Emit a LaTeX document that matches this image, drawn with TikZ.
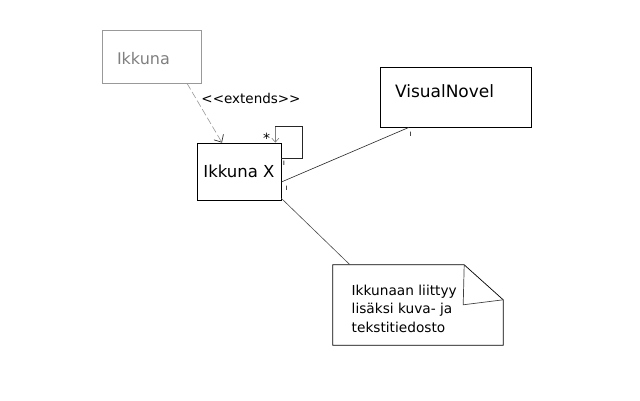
\documentclass[tikz,border=0pt]{standalone}
\usepackage{fontspec}
\setmainfont[Ligatures=NoCommon]{DejaVu Sans}
\usetikzlibrary{arrows.meta,calc}
\definecolor{ltgray}{HTML}{999999}
\definecolor{txgray}{HTML}{808080}
\begin{document}
\begin{tikzpicture}[x=1pt,y=-1pt,
  box/.style={draw=black, line width=0.7pt, inner sep=0pt, fill=white},
  greybox/.style={draw=ltgray, line width=0.7pt, inner sep=0pt, text=txgray},
  conn/.style={draw=black!85, line width=0.6pt},
  mult/.style={font=\fontsize{8}{8}\selectfont, inner sep=0pt}]
\useasboundingbox[fill=white] (0,0) rectangle (640,400);

\node[greybox, minimum width=99pt, minimum height=53pt, text width=69pt, inner xsep=15pt, align=left,
  font=\fontsize{16}{18}\selectfont] (ik) at (151.5,56.5) {\raisebox{-2pt}[\height][\depth]{Ikkuna}};

\node[box, minimum width=84pt, minimum height=57pt, font=\fontsize{16.5}{19}\selectfont] (ikx) at (239,171.5) {Ikkuna X};

\node[box, minimum width=151pt, minimum height=60pt, text width=121pt, inner xsep=15pt, align=left,
  font=\fontsize{17}{19}\selectfont] (vn) at (455.5,97) {\raisebox{6pt}[\height][\depth]{VisualNovel}};

\node[minimum width=170pt, minimum height=80pt, inner sep=0pt] (note) at (418,305) {};
\draw[line width=0.7pt] (note.north west) -- ($(note.north east)+(-39,0)$) coordinate (fa)
  -- ($(note.north east)+(0,35)$) coordinate (fb) -- (note.south east) -- (note.south west) -- cycle;
\draw[line width=0.7pt, draw=black!75] (fa) -- ($(fa)+(-1,40)$) -- (fb);
\node[anchor=west, align=left, inner sep=0pt, font=\fontsize{13.7}{18.5}\selectfont] (notetext) at (351.5,308.5)
  {Ikkunaan liittyy\\lisäksi kuva- ja\\tekstitiedosto};

% extends
\draw[draw=ltgray, line width=0.6pt, dash pattern=on 7pt off 3pt,
  -{Straight Barb[length=6pt,width=11pt,line width=0.7pt,color=black!80]}]
  ([xshift=35.5pt]ik.south) -- ([xshift=-17pt]ikx.north);
\node[font=\fontsize{13.5}{15}\selectfont, inner sep=0pt] (extlbl) at (251,98) {{<}{<}extends{>}{>}};

% self loop
\draw[conn] ([yshift=-16pt]ikx.north east) -- ++(21,0) -- ++(0,-32) -- ++(-27,0) coordinate (lp);
\draw[draw=txgray, line width=0.6pt, -{Straight Barb[length=4pt,width=7pt,line width=0.6pt,color=txgray]}]
  (lp) -- ([xshift=-6pt]ikx.north east);
\node[font=\fontsize{14}{14}\selectfont, inner sep=0pt] (star) at (266.5,138.5) {*};

% associations
\draw[conn] ([yshift=-10.5pt]ikx.east) -- ([xshift=-46.5pt]vn.south);
\draw[conn, draw=black!70] ([yshift=2pt]ikx.south east) -- ([xshift=-68pt]note.north);

\node[mult] (m1) at (284,163) {ı};
\node[mult] (m2) at (286.5,188.5) {ı};
\node[mult] (m3) at (410.5,134) {ı};
\end{tikzpicture}
\end{document}
